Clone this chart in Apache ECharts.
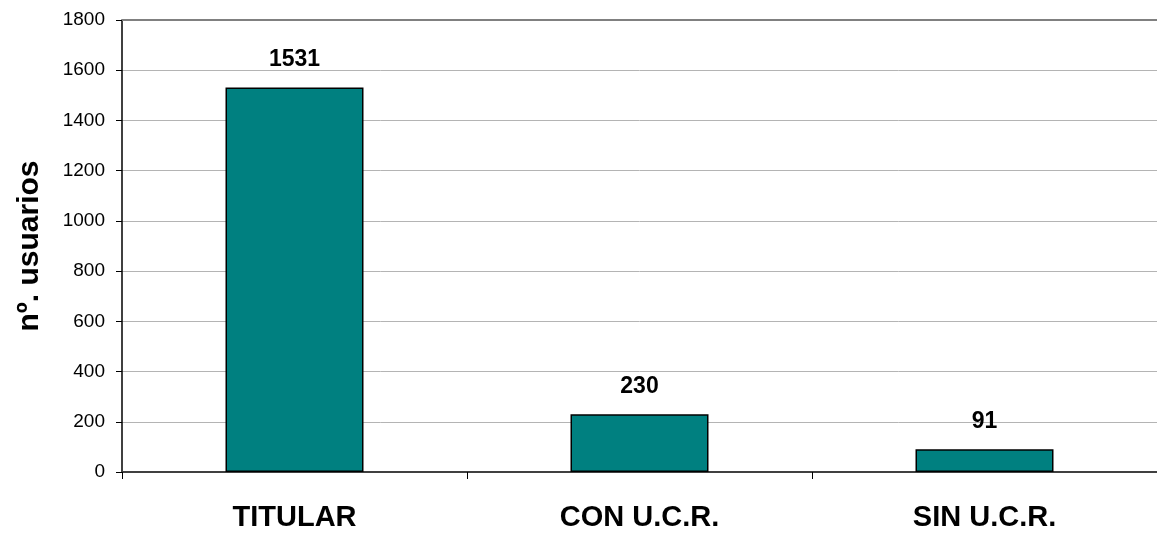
<!DOCTYPE html>
<html lang="es">
<head>
	<meta charset="utf-8">
	<title>nº. usuarios</title>
	<script src="https://cdn.jsdelivr.net/npm/echarts@6/dist/echarts.min.js"></script>
	<style type="text/css">
		html, body {margin:0;padding:0;background:#FFFFFF}
		#chart {width:1157px;height:538px}
	</style>
</head>
<body>
	<div id="chart"></div>
	<script>
		// data
		var categories = ["TITULAR", "CON U.C.R.", "SIN U.C.R."];
		var usuarios = [1531, 230, 91];
		var yMax = 1800;
		var yStep = 200;

		var myChart = echarts.init(document.getElementById("chart"));

		var option = {
			animation: false,
			grid: {left: 122, right: 0, top: 20, bottom: 66},
			xAxis: {
				type: "category",
				data: categories,
				axisLine: {lineStyle: {color: "#404040", width: 2}},
				axisTick: {show: true, length: 7, lineStyle: {color: "#000000", width: 1}},
				axisLabel: {
					color: "#000000",
					fontSize: 29,
					fontWeight: "bold",
					fontFamily: "Liberation Sans, Arial",
					margin: 31
				}
			},
			yAxis: {
				type: "value",
				min: 0,
				max: yMax,
				interval: yStep,
				name: "nº. usuarios",
				nameLocation: "middle",
				nameGap: 77,
				nameTextStyle: {
					color: "#000000",
					fontSize: 30,
					fontWeight: "bold",
					fontFamily: "Liberation Sans, Arial"
				},
				axisLine: {show: true, lineStyle: {color: "#000000", width: 1.5}},
				axisTick: {show: true, length: 6, lineStyle: {color: "#000000"}},
				axisLabel: {
					color: "#000000",
					fontSize: 19,
					fontFamily: "Liberation Sans, Arial",
					margin: 17,
					formatter: function (v) { return String(v); }
				},
				splitLine: {lineStyle: {color: "#B4B4B4", width: 1}}
			},
			series: [
				{
					type: "bar",
					data: usuarios,
					barWidth: "40%",
					itemStyle: {color: "#008080", borderColor: "#000000", borderWidth: 1.5},
					label: {
						show: true,
						position: "top",
						distance: 16,
						color: "#000000",
						fontSize: 23,
						fontWeight: "bold",
						fontFamily: "Liberation Sans, Arial"
					},
					markLine: {
						silent: true,
						symbol: "none",
						label: {show: false},
						lineStyle: {color: "#808080", width: 2, type: "solid"},
						data: [{yAxis: yMax}]
					}
				}
			]
		};

		myChart.setOption(option);
	</script>
</body>
</html>
